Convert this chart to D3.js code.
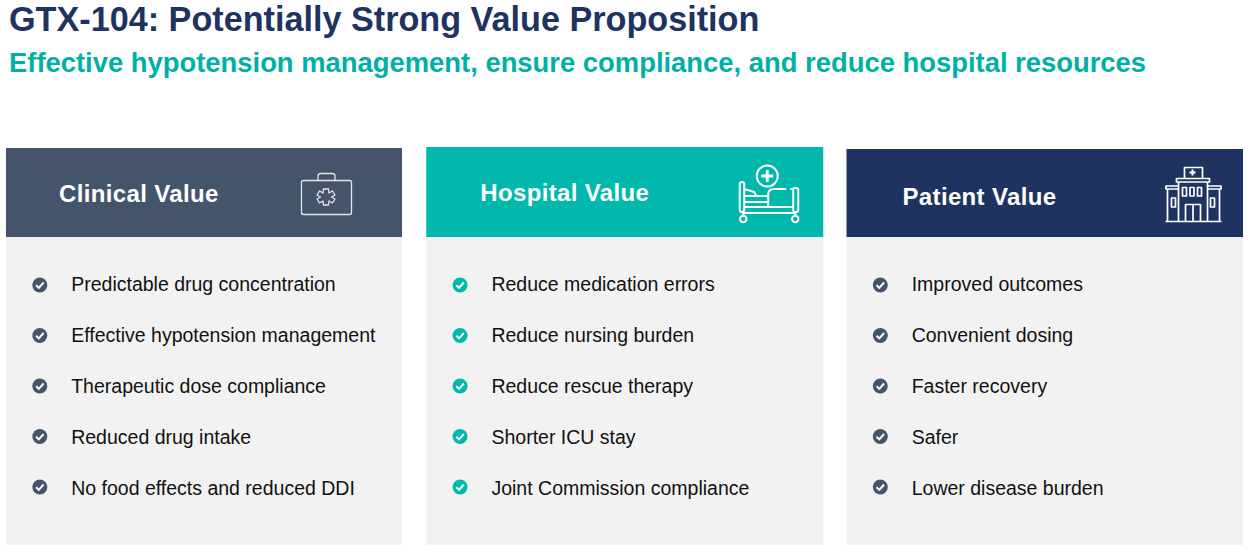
<!DOCTYPE html>
<html>
<head>
<meta charset="utf-8">
<script src="https://cdn.jsdelivr.net/npm/d3@7"></script>
<style>
  html, body { margin: 0; padding: 0; background: #fff; overflow: hidden; }
  text { font-family: "Liberation Sans", Arial, sans-serif; }
</style>
</head>
<body>
<div id="chart"></div>
<script>
const title = "GTX-104: Potentially Strong Value Proposition";
const subtitle = "Effective hypotension management, ensure compliance, and reduce hospital resources";

const columns = ["Clinical Value", "Hospital Value", "Patient Value"];
const clinicalItems = ["Predictable drug concentration", "Effective hypotension management", "Therapeutic dose compliance", "Reduced drug intake", "No food effects and reduced DDI"];
const hospitalItems = ["Reduce medication errors", "Reduce nursing burden", "Reduce rescue therapy", "Shorter ICU stay", "Joint Commission compliance"];
const patientItems = ["Improved outcomes", "Convenient dosing", "Faster recovery", "Safer", "Lower disease burden"];
const allItems = [clinicalItems, hospitalItems, patientItems];
const headerColors = ["#44546a", "#00b8ac", "#1f3361"];
const checkColors = ["#44546a", "#00b8ac", "#44546a"];

const width = 1251;
const height = 557;

const svg = d3.select("#chart").append("svg")
    .attr("width", width)
    .attr("height", height);

svg.append("text")
    .attr("x", 9).attr("y", 31)
    .attr("font-size", 34.2).attr("font-weight", "bold")
    .attr("fill", "#1f3361")
    .text(title);

svg.append("text")
    .attr("x", 9).attr("y", 72)
    .attr("font-size", 27.4).attr("font-weight", "bold")
    .attr("fill", "#00b0a6")
    .text(subtitle);

const xScale = d3.scalePoint().domain(columns).range([6, 846.5]);
const rowScale = d3.scalePoint().domain(d3.range(5)).range([284, 488]);
const bulletScale = d3.scalePoint().domain(d3.range(5)).range([285, 487]);
const panelWidths = [396, 397, 396.5];
const headerTops = [148, 147, 149], headerBottom = 237, bodyBottom = 545;

const panels = svg.selectAll("g.panel")
    .data(columns)
    .enter().append("g")
    .attr("class", "panel")
    .attr("transform", d => `translate(${xScale(d)},0)`);

panels.append("rect")
    .attr("y", headerBottom)
    .attr("width", (d, i) => panelWidths[i])
    .attr("height", bodyBottom - headerBottom)
    .attr("fill", "#f2f2f2");

panels.append("rect")
    .attr("y", (d, i) => headerTops[i])
    .attr("width", (d, i) => panelWidths[i])
    .attr("height", (d, i) => headerBottom - headerTops[i])
    .attr("fill", (d, i) => headerColors[i]);

panels.append("text")
    .attr("x", (d, i) => [53, 54, 56][i])
    .attr("y", (d, i) => [201.5, 200.5, 204.5][i])
    .attr("font-size", 24).attr("font-weight", "bold")
    .attr("letter-spacing", 0.35)
    .attr("fill", "#fff")
    .text(d => d);

// rows of check bullets and labels
panels.each(function(col, c) {
    const panel = d3.select(this);

    const bullets = panel.selectAll("g.bullet")
        .data(allItems[c])
        .enter().append("g")
        .attr("class", "bullet")
        .attr("transform", (d, i) => `translate(0,${bulletScale(i)})`);

    bullets.append("circle")
        .attr("cx", 33.8).attr("r", 7.5)
        .attr("fill", checkColors[c]);

    bullets.append("path")
        .attr("d", "M30.1,0.2 L32.8,2.9 L37.6,-2.5")
        .attr("fill", "none")
        .attr("stroke", "#fff").attr("stroke-width", 2);

    panel.selectAll("text.item")
        .data(allItems[c])
        .enter().append("text")
        .attr("class", "item")
        .attr("x", 65.2)
        .attr("y", (d, i) => rowScale(i) + 6.5)
        .attr("font-size", 19.5)
        .attr("fill", "#111")
        .text(d => d);
});

// header icons, outline style
const icons = panels.append("g")
    .attr("fill", "none")
    .attr("stroke", "#fff")
    .attr("stroke-linejoin", "round");

// medical case
const caseIcon = d3.select(icons.nodes()[0]).attr("stroke-opacity", 0.85).attr("stroke-width", 1.3);
caseIcon.append("rect").attr("x", 295.5).attr("y", 180.5).attr("width", 50).attr("height", 34).attr("rx", 2);
caseIcon.append("path").attr("d", "M312,180 V176 Q312,173.5 315,173.5 H326 Q329,173.5 329,176 V180");
caseIcon.append("path").attr("d", "M317.5,189 h5 l0.5,4 l3.5,-2 l2.5,4 l-3.5,2 l3.5,2 l-2.5,4 l-3.5,-2 l-0.5,4 h-5 l-0.5,-4 l-3.5,2 l-2.5,-4 l3.5,-2 l-3.5,-2 l2.5,-4 l3.5,2 z");

// bed with plus sign
const bedIcon = d3.select(icons.nodes()[1]).attr("stroke-width", 2);
bedIcon.append("circle").attr("cx", 341).attr("cy", 176).attr("r", 10.5);
bedIcon.append("path").attr("d", "M341,170 V182 M335,176 H347").attr("stroke-width", 2.8);
bedIcon.append("rect").attr("x", 313.5).attr("y", 182).attr("width", 4.5).attr("height", 30).attr("rx", 2.2);
bedIcon.append("rect").attr("x", 367).attr("y", 188).attr("width", 5).attr("height", 24).attr("rx", 2);
bedIcon.append("path").attr("d", "M318,189 L328,192 L330,196 H342 M318,196 H330 M318,202 H342");
bedIcon.append("path").attr("d", "M342,207 V194 Q342,189 348,189 H360 M364,189 H367");
bedIcon.append("path").attr("d", "M318,207 H367 M316,213 H370");
bedIcon.append("path").attr("d", "M317,213 V216 M369,213 V216");
bedIcon.append("circle").attr("cx", 317).attr("cy", 219).attr("r", 3.2);
bedIcon.append("circle").attr("cx", 369).attr("cy", 219).attr("r", 3.2);

// hospital building
const hospitalIcon = d3.select(icons.nodes()[2]).attr("stroke-width", 1.7);
hospitalIcon.append("path").attr("d", "M338,178 V167.5 H356 V178");
hospitalIcon.append("path").attr("d", "M346,169.5 V175.5 M343,172.5 H349").attr("stroke-width", 2);
hospitalIcon.append("path").attr("d", "M330,178.5 H363 V182 H330 Z");
hospitalIcon.append("path").attr("d", "M332,182 V221 M361,182 V221");
hospitalIcon.append("path").attr("d", "M332,186 H319.5 V189 H332 M361,186 H374.5 V189 H361");
hospitalIcon.append("path").attr("d", "M321,189 V221 M373,189 V221 M319,221.5 H375");
[336, 343.5, 351].forEach(x => {
    hospitalIcon.append("rect").attr("x", x).attr("y", 187.5).attr("width", 4).attr("height", 8.5);
});
hospitalIcon.append("path").attr("d", "M339,221 V204.5 H354 V221 M346.5,204.5 V221");
[325, 364].forEach(x => {
    hospitalIcon.append("rect").attr("x", x).attr("y", 198).attr("width", 4).attr("height", 9);
});
</script>
</body>
</html>
